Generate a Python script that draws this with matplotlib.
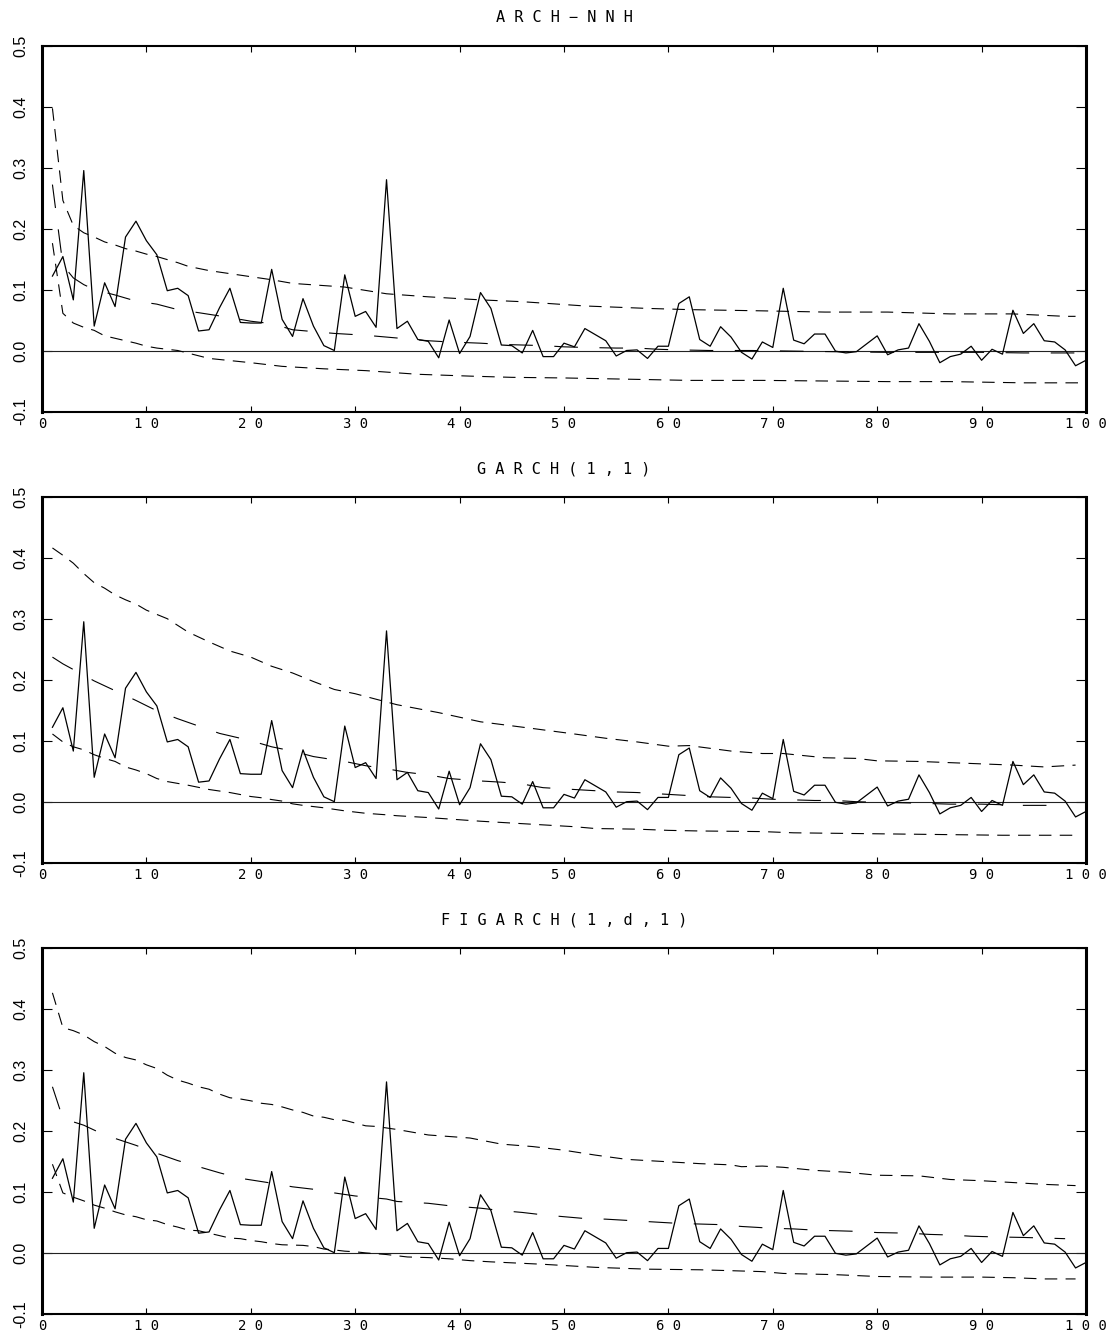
"""Sample autocorrelations of squared returns with model-implied ACF and bands."""

import matplotlib.pyplot as plt

plt.rcParams["lines.scale_dashes"] = False

# sample ACF (solid line), lags 1..100 -- identical in all three panels
acf_lags = list(range(1, 101))
sample_acf = [
    0.122, 0.154, 0.083, 0.295, 0.040, 0.111, 0.072, 0.186, 0.212, 0.180,
    0.157, 0.098, 0.102, 0.090, 0.032, 0.034, 0.070, 0.102, 0.046, 0.045,
    0.045, 0.133, 0.051, 0.023, 0.085, 0.040, 0.008, 0.000, 0.124, 0.056,
    0.064, 0.038, 0.280, 0.036, 0.048, 0.018, 0.015, -0.012, 0.050, -0.005,
    0.023, 0.095, 0.069, 0.009, 0.008, -0.004, 0.033, -0.010, -0.010, 0.012,
    0.006, 0.036, 0.026, 0.016, -0.009, 0.000, 0.001, -0.013, 0.007, 0.007,
    0.077, 0.088, 0.018, 0.007, 0.039, 0.022, -0.003, -0.014, 0.014, 0.005,
    0.102, 0.017, 0.011, 0.027, 0.027, -0.001, -0.004, -0.002, 0.011, 0.024,
    -0.007, 0.001, 0.004, 0.044, 0.015, -0.020, -0.010, -0.006, 0.007, -0.016,
    0.002, -0.006, 0.066, 0.028, 0.044, 0.016, 0.014, 0.001, -0.025, -0.016,
]

titles = ["ARCH−NNH", "GARCH(1,1)", "FIGARCH(1,d,1)"]

# ARCH-NNH
arch_upper_lag = [1, 2, 3, 4, 5, 6, 7, 8, 9, 10, 11, 12, 13, 14, 16, 18, 20, 22, 24,
                  29, 33, 37, 42, 46, 52, 58, 62, 69, 75, 81, 87, 93, 98, 99]
arch_upper = [0.397, 0.246, 0.205, 0.193, 0.186, 0.178, 0.173, 0.167, 0.163, 0.158,
              0.154, 0.149, 0.144, 0.138, 0.131, 0.126, 0.121, 0.116, 0.110,
              0.104, 0.093, 0.088, 0.083, 0.080, 0.073, 0.069, 0.067, 0.065, 0.063,
              0.063, 0.060, 0.060, 0.056, 0.056]
arch_mid_lag = [1, 2, 3, 4, 5, 7, 9, 11, 13, 15, 18, 20, 22, 24, 26, 28, 31, 33, 35,
                37, 39, 42, 44, 46, 48, 50, 52, 55, 57, 59, 61, 64, 68, 72, 76, 81,
                85, 90, 94, 99]
arch_mid = [0.272, 0.140, 0.119, 0.108, 0.100, 0.091, 0.081, 0.076, 0.067, 0.062,
            0.054, 0.048, 0.044, 0.034, 0.031, 0.028, 0.025, 0.022, 0.019,
            0.016, 0.014, 0.012, 0.010, 0.009, 0.008, 0.006, 0.005, 0.004, 0.004,
            0.002, 0.001, 0.000, 0.000, -0.001, -0.002, -0.003, -0.003, -0.003,
            -0.004, -0.004]
arch_low_lag = [1, 2, 3, 4, 5, 6, 7, 8, 9, 10, 11, 13, 16, 20, 23, 27, 31, 36, 41,
                45, 50, 56, 62, 69, 75, 81, 87, 94, 100]
arch_low = [0.176, 0.061, 0.045, 0.038, 0.033, 0.024, 0.020, 0.016, 0.012, 0.007,
            0.004, 0.000, -0.013, -0.020, -0.026, -0.030, -0.033, -0.039, -0.042,
            -0.044, -0.045, -0.047, -0.049, -0.049, -0.050, -0.051, -0.051,
            -0.053, -0.053]

# GARCH(1,1)
garch_upper_lag = [1, 2, 3, 4, 5, 6, 7, 8, 9, 10, 12, 14, 16, 18, 20, 22, 24, 26, 28,
                   30, 32, 34, 38, 42, 47, 51, 54, 57, 60, 62, 66, 69, 71, 75, 78,
                   80, 84, 87, 90, 93, 96, 99]
garch_upper = [0.416, 0.404, 0.391, 0.374, 0.359, 0.350, 0.339, 0.331, 0.324, 0.314,
               0.300, 0.278, 0.262, 0.247, 0.237, 0.222, 0.211, 0.197, 0.184,
               0.177, 0.168, 0.159, 0.146, 0.131, 0.120, 0.111, 0.104, 0.098,
               0.091, 0.092, 0.083, 0.079, 0.079, 0.072, 0.071, 0.067, 0.066,
               0.064, 0.062, 0.060, 0.057, 0.060]
garch_mid_lag = [1, 2, 5, 7, 9, 11, 13, 15, 17, 20, 22, 24, 26, 29, 31, 33, 35, 37,
                 39, 42, 44, 46, 48, 50, 52, 55, 57, 59, 62, 64, 66, 68, 70, 72, 74,
                 76, 78, 80, 83, 85, 87, 90, 92, 94, 96, 98]
garch_mid = [0.237, 0.226, 0.198, 0.182, 0.166, 0.149, 0.136, 0.124, 0.112, 0.100,
             0.090, 0.083, 0.074, 0.066, 0.059, 0.054, 0.048, 0.044, 0.038, 0.034,
             0.032, 0.029, 0.023, 0.021, 0.019, 0.016, 0.015, 0.013, 0.010, 0.008,
             0.007, 0.006, 0.004, 0.003, 0.002, 0.002, 0.000, -0.001, -0.002,
             -0.003, -0.004, -0.004, -0.005, -0.006, -0.006, -0.006]
garch_low_lag = [1, 2, 3, 4, 5, 6, 7, 8, 9, 10, 11, 12, 14, 16, 18, 20, 21, 22, 23,
                 24, 25, 27, 29, 31, 33, 34, 37, 42, 47, 51, 53, 57, 60, 63, 69, 72,
                 77, 82, 87, 92, 96, 99]
garch_low = [0.111, 0.098, 0.090, 0.085, 0.077, 0.071, 0.066, 0.057, 0.052, 0.046,
             0.038, 0.033, 0.027, 0.020, 0.015, 0.0085, 0.0065, 0.0035, 0.001,
             -0.0035, -0.006, -0.010, -0.015, -0.019, -0.0215, -0.023, -0.026,
             -0.032, -0.037, -0.041, -0.044, -0.045, -0.047, -0.048, -0.049,
             -0.051, -0.052, -0.053, -0.054, -0.055, -0.055, -0.055]

# FIGARCH(1,d,1)
figarch_upper_lag = [1, 2, 3, 4, 5, 6, 7, 8, 9, 10, 11, 12, 13, 14, 15, 16, 17, 18,
                     19, 20, 21, 22, 23, 24, 25, 26, 27, 28, 29, 31, 32, 34, 37, 41,
                     44, 47, 50, 53, 56, 60, 63, 66, 67, 69, 71, 74, 77, 80, 84, 87,
                     90, 93, 96, 99]
figarch_upper = [0.426, 0.369, 0.364, 0.357, 0.346, 0.338, 0.327, 0.320, 0.316,
                 0.308, 0.302, 0.291, 0.283, 0.278, 0.272, 0.268, 0.260, 0.254,
                 0.252, 0.249, 0.245, 0.243, 0.239, 0.234, 0.230, 0.224, 0.222,
                 0.218, 0.217, 0.208, 0.207, 0.202, 0.193, 0.188, 0.178, 0.174,
                 0.168, 0.160, 0.153, 0.149, 0.146, 0.144, 0.141, 0.142, 0.140,
                 0.135, 0.132, 0.127, 0.126, 0.120, 0.118, 0.115, 0.112, 0.110]
figarch_mid_lag = [1, 2, 4, 6, 9, 11, 13, 15, 17, 19, 22, 24, 26, 28, 30, 33, 34, 37,
                   39, 42, 44, 46, 48, 50, 52, 54, 57, 59, 61, 63, 65, 67, 70, 72,
                   74, 76, 78, 80, 83, 85, 87, 89, 91, 94, 96, 98]
figarch_mid = [0.272, 0.220, 0.209, 0.193, 0.176, 0.163, 0.151, 0.141, 0.131, 0.122,
               0.114, 0.108, 0.104, 0.098, 0.093, 0.088, 0.084, 0.081, 0.077, 0.073,
               0.069, 0.066, 0.062, 0.059, 0.056, 0.055, 0.052, 0.050, 0.048,
               0.047, 0.046, 0.043, 0.040, 0.039, 0.037, 0.036, 0.035, 0.033,
               0.032, 0.030, 0.029, 0.027, 0.026, 0.025, 0.024, 0.023]
figarch_low_lag = [1, 2, 3, 4, 5, 6, 7, 8, 9, 10, 11, 12, 13, 14, 15, 18, 19, 20, 21,
                   22, 23, 25, 26, 27, 28, 29, 30, 31, 33, 34, 35, 37, 39, 41, 43,
                   48, 53, 58, 63, 69, 71, 76, 80, 85, 90, 93, 96, 99]
figarch_low = [0.145, 0.098, 0.091, 0.085, 0.078, 0.073, 0.067, 0.062, 0.059, 0.054,
               0.052, 0.046, 0.042, 0.037, 0.036, 0.024, 0.023, 0.020, 0.018,
               0.015, 0.013, 0.012, 0.010, 0.006, 0.0045, 0.0025, 0.0015, -0.0003,
               -0.003, -0.005, -0.007, -0.008, -0.010, -0.013, -0.015, -0.019,
               -0.024, -0.027, -0.028, -0.031, -0.034, -0.036, -0.039, -0.040,
               -0.040, -0.041, -0.043, -0.043]

bands = [
    (arch_upper_lag, arch_upper, arch_mid_lag, arch_mid, arch_low_lag, arch_low),
    (garch_upper_lag, garch_upper, garch_mid_lag, garch_mid, garch_low_lag, garch_low),
    (figarch_upper_lag, figarch_upper, figarch_mid_lag, figarch_mid,
     figarch_low_lag, figarch_low),
]

x_ticks = list(range(0, 101, 10))
y_ticks = [-0.1, 0.0, 0.1, 0.2, 0.3, 0.4, 0.5]
y_tick_labels = ["-0.1", "0.0", "0.1", "0.2", "0.3", "0.4", "0.5"]

# layout in pixels
FIG_W, FIG_H = 1114, 1339
LEFT, WIDTH = 42, 1044
panel_tops = [45.5, 496.7, 947.7]
PANEL_H = 366

SHORT = (9.0, 6.0)
LONG = (17.0, 15.5)
MONO = "DejaVu Sans Mono"

fig = plt.figure(figsize=(FIG_W / 100, FIG_H / 100), dpi=100)

for top, title, (ul, uv, ml, mv, ll, lv) in zip(panel_tops, titles, bands):
    ax = fig.add_axes([LEFT / FIG_W, 1 - (top + PANEL_H) / FIG_H,
                       WIDTH / FIG_W, PANEL_H / FIG_H])
    ax.axhline(0.0, color="#222222", lw=0.8)
    ax.plot(acf_lags, sample_acf, color="black", lw=0.9)
    ax.plot(ul, uv, color="black", lw=0.8, dashes=SHORT)
    ax.plot(ml, mv, color="black", lw=0.8, dashes=LONG)
    ax.plot(ll, lv, color="black", lw=0.8, dashes=SHORT)

    ax.set_xlim(0, 100)
    ax.set_ylim(-0.1, 0.5)
    ax.set_xticks(x_ticks)
    ax.set_xticklabels([" ".join(str(t)) for t in x_ticks], family=MONO, fontsize=10)
    ax.set_yticks(y_ticks)
    ax.set_yticklabels(y_tick_labels, family="Liberation Sans", fontsize=11.5,
                       rotation=90, va="center")
    ax.tick_params(axis="x", direction="in", length=4, width=0.8, pad=4,
                   top=True, bottom=True)
    ax.tick_params(axis="y", direction="in", length=7, width=0.8, pad=10,
                   left=True, right=True)
    for side in ("left", "right"):
        ax.spines[side].set_linewidth(2.2)
    for side in ("top", "bottom"):
        ax.spines[side].set_linewidth(1.5)

    ax.set_title(" ".join(title), family=MONO, fontsize=11, pad=17)

fig.savefig("out.png", dpi=100)
